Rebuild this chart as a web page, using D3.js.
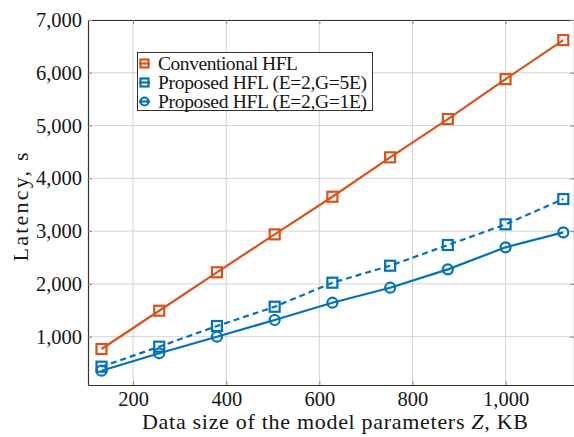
<!DOCTYPE html>
<html>
<head>
<meta charset="utf-8">
<script src="https://cdn.jsdelivr.net/npm/d3@7"></script>
<style>
  html, body { margin: 0; padding: 0; background: #fff; }
  svg { display: block; font-family: "Liberation Serif", "DejaVu Serif", serif; }
</style>
</head>
<body>
<svg id="chart" width="574" height="437"></svg>
<script>
// Model parameter sizes (KB)
const dataSize = [132, 256, 380, 504, 628, 752, 876, 1000, 1124];
// Latency (s) for each scheme
const conventional = [767, 1492, 2220, 2939, 3652, 4398, 5123, 5880, 6619];
const proposedG5E = [432, 811, 1203, 1568, 2023, 2345, 2737, 3129, 3608];
const proposedG1E = [356, 686, 1000, 1316, 1644, 1928, 2276, 2693, 2977];

const xTicks = [200, 400, 600, 800, 1000];
const yTicks = [1000, 2000, 3000, 4000, 5000, 6000, 7000];

const seriesNames = ["Conventional HFL", "Proposed HFL (E=2,G=5E)", "Proposed HFL (E=2,G=1E)"];

const series = [
  { name: seriesNames[0], values: conventional, color: "#D95319", mark: "square", dash: null, labelWidth: 140 },
  { name: seriesNames[1], values: proposedG5E, color: "#0072BD", mark: "square", dash: "6,4", labelWidth: 209 },
  { name: seriesNames[2], values: proposedG1E, color: "#0072BD", mark: "circle", dash: null, labelWidth: 209 }
];

const svg = d3.select("#chart");
const plot = { left: 88, right: 574, top: 20, bottom: 385 };

const x = d3.scaleLinear().domain([103, 1147]).range([plot.left, plot.right]);
const y = d3.scaleLinear().domain([85, 7000]).range([plot.bottom, plot.top]);

const fmt = d3.format(",");
const textColor = "#151515";

// grid
const grid = svg.append("g");
grid.selectAll("line.gx").data(xTicks).join("line")
  .attr("x1", d => x(d)).attr("x2", d => x(d))
  .attr("y1", plot.top).attr("y2", plot.bottom)
  .attr("stroke", "#d4d4d4").attr("stroke-width", 1);
grid.selectAll("line.gy").data(yTicks).join("line")
  .attr("x1", plot.left).attr("x2", plot.right)
  .attr("y1", d => y(d)).attr("y2", d => y(d))
  .attr("stroke", "#d4d4d4").attr("stroke-width", 1);

// axes (ticks pointing inward, mirrored on top/right)
const axisColor = "#333";
const xAxis = svg.append("g").attr("transform", `translate(0,${plot.bottom})`)
  .call(d3.axisBottom(x).tickValues(xTicks).tickFormat(fmt).tickSizeInner(-4).tickSizeOuter(0).tickPadding(6));
const xAxisTop = svg.append("g").attr("transform", `translate(0,${plot.top})`)
  .call(d3.axisTop(x).tickValues(xTicks).tickFormat("").tickSizeInner(-4).tickSizeOuter(0));
const yAxis = svg.append("g").attr("transform", `translate(${plot.left},0)`)
  .call(d3.axisLeft(y).tickValues(yTicks).tickFormat(fmt).tickSizeInner(-4).tickSizeOuter(0).tickPadding(6));
const yAxisRight = svg.append("g").attr("transform", `translate(${plot.right},0)`)
  .call(d3.axisRight(y).tickValues(yTicks).tickFormat("").tickSizeInner(-4).tickSizeOuter(0));

[xAxis, xAxisTop, yAxis, yAxisRight].forEach(g => {
  g.select(".domain").attr("stroke", axisColor).attr("stroke-width", 1.2);
  g.selectAll(".tick line").attr("stroke", "#888");
  g.selectAll(".tick text").attr("font-family", "Liberation Serif, serif")
    .attr("font-size", 20.5).attr("fill", textColor);
});

// axis titles
const xTitle = svg.append("text")
  .attr("x", 335).attr("y", 429)
  .attr("text-anchor", "middle").attr("font-size", 22).attr("fill", textColor)
  .attr("textLength", 386).attr("lengthAdjust", "spacing");
xTitle.append("tspan").text("Data size of the model parameters ");
xTitle.append("tspan").attr("font-style", "italic").text("Z");
xTitle.append("tspan").text(", KB");

svg.append("text")
  .attr("transform", `translate(28,207) rotate(-90)`)
  .attr("text-anchor", "middle").attr("font-size", 22).attr("fill", textColor)
  .attr("textLength", 109).attr("lengthAdjust", "spacing")
  .text("Latency, s");

// marker drawing
function drawMark(g, type, cx, cy, color, size) {
  if (type === "square") {
    g.append("rect")
      .attr("x", cx - size / 2).attr("y", cy - size / 2)
      .attr("width", size).attr("height", size)
      .attr("fill", "none").attr("stroke", color).attr("stroke-width", 2.2);
  } else {
    g.append("circle")
      .attr("cx", cx).attr("cy", cy).attr("r", size / 2)
      .attr("fill", "none").attr("stroke", color).attr("stroke-width", 2.2);
  }
}

// series lines and markers
const line = d3.line().x(d => x(d[0])).y(d => y(d[1]));
series.forEach(s => {
  const pts = dataSize.map((v, i) => [v, s.values[i]]);
  const g = svg.append("g");
  g.append("path").datum(pts).attr("d", line)
    .attr("fill", "none").attr("stroke", s.color).attr("stroke-width", 2.2)
    .attr("stroke-dasharray", s.dash);
  pts.forEach(p => drawMark(g, s.mark, x(p[0]), y(p[1]), s.color, 10));
});

// legend
const legend = svg.append("g");
legend.append("rect")
  .attr("x", 137.5).attr("y", 52.5).attr("width", 235).attr("height", 58)
  .attr("fill", "#fff").attr("stroke", "#333").attr("stroke-width", 1);
series.forEach((s, i) => {
  const cy = 63.5 + i * 19;
  const g = legend.append("g");
  g.append("line").attr("x1", 139).attr("x2", 150).attr("y1", cy).attr("y2", cy)
    .attr("stroke", s.color).attr("stroke-width", 2.2);
  drawMark(g, s.mark, 144.5, cy, s.color, 8);
  g.append("text").attr("x", 158).attr("y", cy + 6)
    .attr("font-size", 19.5).attr("fill", textColor)
    .attr("textLength", s.labelWidth).attr("lengthAdjust", "spacing")
    .text(s.name);
});
</script>
</body>
</html>
